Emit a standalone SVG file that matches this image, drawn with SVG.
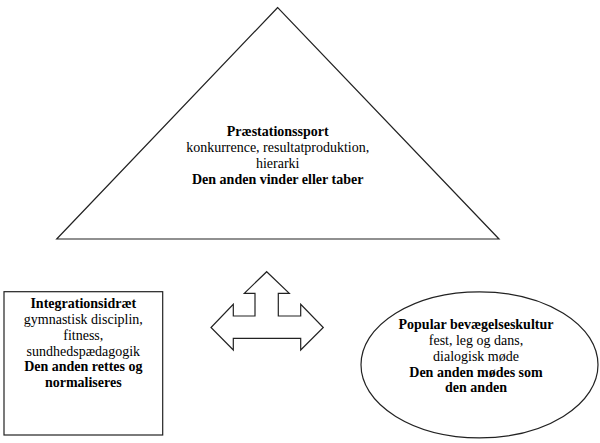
<svg xmlns="http://www.w3.org/2000/svg" width="600" height="443" viewBox="0 0 600 443">
<style>
.shape{fill:#fff;stroke:#222;stroke-width:1.2}
text{font-family:"Liberation Serif","Times New Roman",serif;font-size:14px;fill:#000;text-anchor:middle}
.b{font-weight:bold}
</style>
<rect width="600" height="443" fill="#fff"/>
<g id="praestationssport">
<polygon class="shape" points="277.7,7.5 56.7,239 499,239"/>
<text x="277.7" y="136" class="b">Præstationssport</text>
<text x="277.7" y="152">konkurrence, resultatproduktion,</text>
<text x="277.7" y="168">hierarki</text>
<text x="277.7" y="184" class="b">Den anden vinder eller taber</text>
</g>
<g id="integrationsidraet">
<rect class="shape" x="4" y="291.7" width="158.7" height="143.3"/>
<text x="83.3" y="308.3" class="b">Integrationsidræt</text>
<text x="83.3" y="324.3">gymnastisk disciplin,</text>
<text x="83.3" y="340">fitness,</text>
<text x="83.3" y="355.7">sundhedspædagogik</text>
<text x="83.3" y="371.4" class="b">Den anden rettes og</text>
<text x="83.3" y="387" class="b">normaliseres</text>
</g>
<g id="popular">
<ellipse class="shape" cx="479.5" cy="364.8" rx="118.5" ry="73"/>
<text x="476" y="329.3" class="b">Popular bevægelseskultur</text>
<text x="476" y="345">fest, leg og dans,</text>
<text x="476" y="360.7">dialogisk møde</text>
<text x="476" y="376.5" class="b">Den anden mødes som</text>
<text x="476" y="392.3" class="b">den anden</text>
</g>
<g id="connectors">
<polygon class="shape" points="266.7,271.7 289.3,293.3 278.3,293.3 278.3,316 300.7,316 300.7,304.3 323.3,327.5 300.7,350 300.7,338.3 233.3,338.3 233.3,350 211,327.5 233.3,304.3 233.3,316 255,316 255,293.3 244.3,293.3"/>
</g>
</svg>
